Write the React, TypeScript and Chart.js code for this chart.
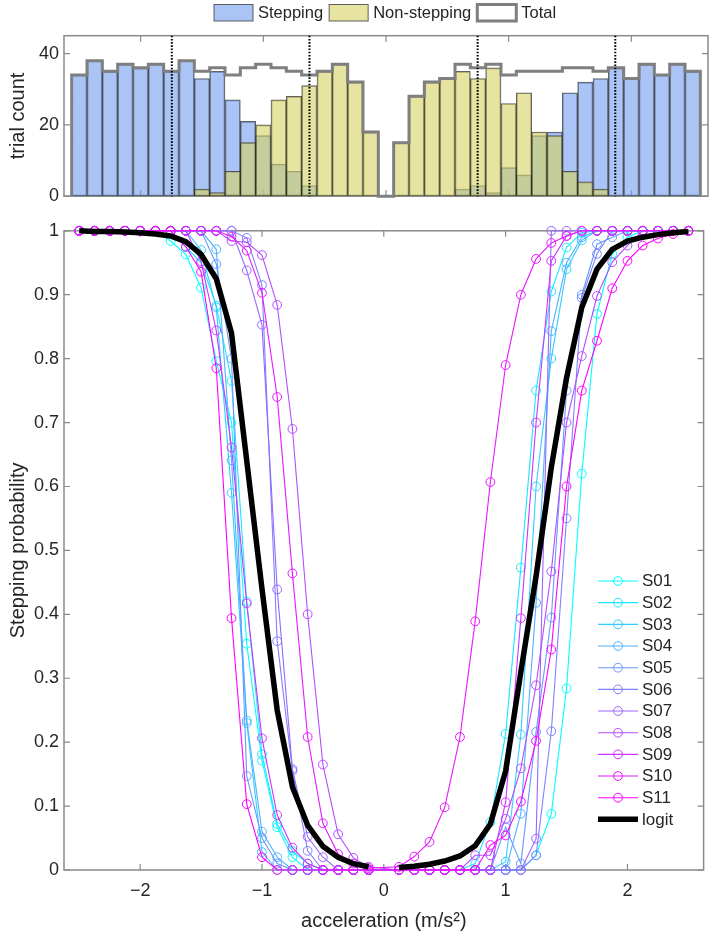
import React, { useEffect, useRef } from "react";
import { Chart, registerables } from "chart.js";

Chart.register(...registerables);

// ---------------- data ----------------
const BIN_CENTERS = [-2.5, -2.375, -2.25, -2.125, -2, -1.875, -1.75, -1.625, -1.5, -1.375, -1.25, -1.125, -1, -0.875, -0.75, -0.625, -0.5, -0.375, -0.25, -0.125, 0, 0.125, 0.25, 0.375, 0.5, 0.625, 0.75, 0.875, 1, 1.125, 1.25, 1.375, 1.5, 1.625, 1.75, 1.875, 2, 2.125, 2.25, 2.375, 2.5];
const BIN_WIDTH = 0.125;
const STEPPING_COUNTS = [34, 38, 35, 37, 36, 37, 35, 38, 33, 35, 27, 21, 17, 9, 7, 3, 0, 0, 0, 0, 0, 0, 0, 0, 0, 2, 3, 1, 8, 6, 17, 18, 29, 32, 33, 36, 33, 37, 34, 37, 35];
const NONSTEPPING_COUNTS = [0, 0, 0, 0, 0, 0, 0, 0, 2, 1, 7, 15, 20, 27, 28, 31, 35, 37, 32, 18, 0, 15, 28, 32, 33, 35, 33, 36, 26, 29, 18, 17, 7, 4, 2, 0, 0, 0, 0, 0, 0];
const TOTAL_COUNTS = [34, 38, 35, 37, 36, 37, 35, 38, 35, 36, 34, 36, 37, 36, 35, 34, 35, 37, 32, 18, 0, 15, 28, 32, 33, 37, 36, 37, 34, 35, 35, 35, 36, 36, 35, 36, 33, 37, 34, 37, 35];
const THRESHOLDS = [-1.746, -0.624, 0.747, 1.869];

const ACCEL = [-2.5, -2.375, -2.25, -2.125, -2, -1.875, -1.75, -1.625, -1.5, -1.375, -1.25, -1.125, -1, -0.875, -0.75, -0.625, -0.5, -0.375, -0.25, -0.125, 0.125, 0.25, 0.375, 0.5, 0.625, 0.75, 0.875, 1, 1.125, 1.25, 1.375, 1.5, 1.625, 1.75, 1.875, 2, 2.125, 2.25, 2.375, 2.5];

const S01 = [1, 1, 1, 1, 1, 1, 0.984, 0.963, 0.911, 0.796, 0.70, 0.354, 0.171, 0.067, 0.02, 0, 0, 0, 0, 0, 0, 0, 0, 0, 0, 0, 0, 0, 0, 0.023, 0.088, 0.284, 0.62, 0.87, 0.964, 0.99, 1, 1, 1, 1];
const S02 = [1, 1, 1, 1, 1, 1, 1, 0.975, 0.95, 0.883, 0.765, 0.42, 0.181, 0.072, 0.03, 0.01, 0, 0, 0, 0, 0, 0, 0, 0, 0, 0.01, 0.075, 0.213, 0.473, 0.75, 0.905, 0.974, 0.997, 1, 1, 1, 1, 1, 1, 1];
const S03 = [1, 1, 1, 1, 1, 1, 1, 1, 0.97, 0.88, 0.59, 0.23, 0.028, 0, 0, 0, 0, 0, 0, 0, 0, 0, 0, 0, 0, 0, 0, 0.013, 0.212, 0.6, 0.80, 0.94, 0.985, 1, 1, 1, 1, 1, 1, 1];
const S04 = [1, 1, 1, 1, 1, 1, 1, 1, 1, 0.971, 0.641, 0.234, 0.06, 0.02, 0, 0, 0, 0, 0, 0, 0, 0, 0, 0, 0, 0, 0, 0, 0.088, 0.418, 0.843, 0.95, 0.99, 1, 1, 1, 1, 1, 1, 1];
const S05 = [1, 1, 1, 1, 1, 1, 1, 1, 1, 0.948, 0.80, 0.147, 0.05, 0.01, 0, 0, 0, 0, 0, 0, 0, 0, 0, 0, 0, 0, 0, 0.067, 0.01, 0.216, 0.395, 0.75, 0.90, 0.979, 0.99, 1, 1, 1, 1, 1];
const S06 = [1, 1, 1, 1, 1, 1, 1, 1, 1, 1, 1, 0.989, 0.915, 0.358, 0.155, 0.03, 0, 0, 0, 0, 0, 0, 0, 0, 0, 0, 0, 0, 0, 0.023, 0.217, 0.55, 0.895, 0.964, 1, 1, 1, 1, 1, 1];
const S07 = [1, 1, 1, 1, 1, 1, 1, 1, 1, 1, 1, 0.938, 0.853, 0.439, 0.158, 0.052, 0.02, 0, 0, 0, 0, 0, 0, 0, 0, 0, 0, 0, 0, 0.049, 1, 1, 1, 1, 1, 1, 1, 1, 1, 1];
const S08 = [1, 1, 1, 1, 1, 1, 1, 1, 1, 1, 0.984, 0.982, 0.962, 0.884, 0.69, 0.40, 0.165, 0.056, 0.019, 0.005, 0, 0, 0, 0, 0, 0.023, 0.023, 0.08, 0.159, 0.289, 0.467, 0.7, 0.804, 0.898, 0.951, 0.977, 1, 1, 1, 1];
const S09 = [1, 1, 1, 1, 1, 1, 1, 1, 0.952, 0.844, 0.661, 0.417, 0.206, 0.086, 0.035, 0.01, 0, 0, 0, 0, 0, 0, 0, 0, 0, 0, 0, 0.106, 0.394, 0.70, 0.953, 0.992, 1, 1, 1, 1, 1, 1, 1, 1];
const S10 = [1, 1, 1, 1, 1, 1, 1, 1, 1, 1, 0.991, 0.969, 0.903, 0.74, 0.464, 0.208, 0.073, 0.025, 0.01, 0.003, 0.005, 0.021, 0.044, 0.098, 0.208, 0.389, 0.607, 0.79, 0.90, 0.956, 0.981, 0.992, 1, 1, 1, 1, 1, 1, 1, 1];
const S11 = [1, 1, 1, 1, 1, 1, 1, 0.975, 0.936, 0.785, 0.394, 0.103, 0.02, 0, 0, 0, 0, 0, 0, 0, 0, 0, 0, 0, 0, 0, 0.039, 0.054, 0.107, 0.202, 0.345, 0.6, 0.75, 0.828, 0.91, 0.953, 0.977, 0.988, 0.995, 1];
const LOGIT = [1, 0.999, 0.999, 0.998, 0.997, 0.995, 0.992, 0.983, 0.963, 0.925, 0.84, 0.64, 0.44, 0.25, 0.13, 0.07, 0.037, 0.02, 0.01, 0.005, 0.004, 0.006, 0.009, 0.014, 0.022, 0.038, 0.072, 0.155, 0.31, 0.46, 0.63, 0.77, 0.88, 0.94, 0.971, 0.984, 0.99, 0.994, 0.997, 0.999];

const SUBJECT_LABELS = ["S01", "S02", "S03", "S04", "S05", "S06", "S07", "S08", "S09", "S10", "S11"];
const SUBJECT_SERIES = [S01, S02, S03, S04, S05, S06, S07, S08, S09, S10, S11];

const X_TICKS = [-2, -1, 0, 1, 2];
const COUNT_TICKS = [0, 20, 40];
const PROB_TICKS = [0, 0.1, 0.2, 0.3, 0.4, 0.5, 0.6, 0.7, 0.8, 0.9, 1];

// ---------------- styles ----------------
const FONT = "'Liberation Sans', Arial, Helvetica, sans-serif";
const TEXT = "#262626";
const AXIS = "#8a8a8a";
const STEP_FILL = "rgba(113,158,238,0.6)";
const NONSTEP_FILL = "rgba(213,210,97,0.6)";
const BAR_EDGE = "rgba(45,45,45,0.75)";
const TOTAL_COLOR = "#7f7f7f";
const SUBJECT_COLORS = ["#00ffff", "#1ae6ff", "#33ccff", "#4db3ff", "#6699ff", "#8080ff", "#9966ff", "#b34dff", "#cc33ff", "#e619ff", "#ff00ff"];

Chart.defaults.font.family = FONT;
Chart.defaults.color = TEXT;

const XMIN = -2.625;
const XMAX = 2.625;

// axes box with inward ticks (MATLAB style)
const boxPlugin = {
  id: "matlabBox",
  beforeDatasetsDraw(chart: any, _a: any, opts: any) {
    const { ctx, chartArea } = chart;
    const { left, right, top, bottom } = chartArea;
    const xs = chart.scales.x;
    const ys = chart.scales.y;
    const L = 6;
    ctx.save();
    ctx.strokeStyle = AXIS;
    ctx.lineWidth = 1.2;
    ctx.beginPath();
    for (const v of opts.xTicks || []) {
      const px = xs.getPixelForValue(v);
      ctx.moveTo(px, bottom);
      ctx.lineTo(px, bottom - L);
      ctx.moveTo(px, top);
      ctx.lineTo(px, top + L);
    }
    for (const v of opts.yTicks || []) {
      const py = ys.getPixelForValue(v);
      ctx.moveTo(left, py);
      ctx.lineTo(left + L, py);
      ctx.moveTo(right, py);
      ctx.lineTo(right - L, py);
    }
    ctx.stroke();
    ctx.lineWidth = 1.5;
    ctx.strokeRect(left, top, right - left, bottom - top);
    ctx.restore();
  },
};

const thresholdPlugin = {
  id: "thresholds",
  afterDatasetsDraw(chart: any) {
    const { ctx, chartArea } = chart;
    const xs = chart.scales.x;
    ctx.save();
    ctx.strokeStyle = "#000";
    ctx.lineWidth = 2;
    ctx.setLineDash([1.6, 1.6]);
    for (const v of THRESHOLDS) {
      const px = xs.getPixelForValue(v);
      ctx.beginPath();
      ctx.moveTo(px, chartArea.top);
      ctx.lineTo(px, chartArea.bottom);
      ctx.stroke();
    }
    ctx.restore();
  },
};

const histLegendPlugin = {
  id: "histLegend",
  afterDraw(chart: any) {
    const ctx = chart.ctx;
    ctx.save();
    ctx.font = `16.5px ${FONT}`;
    ctx.textBaseline = "middle";
    const ds = chart.data.datasets;
    const items = [
      { label: ds[2].label, fill: STEP_FILL, stroke: BAR_EDGE, lw: 1 },
      { label: ds[1].label, fill: NONSTEP_FILL, stroke: BAR_EDGE, lw: 1 },
      { label: ds[0].label, fill: "#ffffff", stroke: TOTAL_COLOR, lw: 3 },
    ];
    let x = 214;
    const y0 = 4.5;
    const h = 16.5;
    const bw = 39;
    for (const it of items) {
      ctx.fillStyle = it.fill;
      ctx.fillRect(x, y0, bw, h);
      ctx.strokeStyle = it.stroke;
      ctx.lineWidth = it.lw;
      ctx.strokeRect(x, y0, bw, h);
      ctx.fillStyle = TEXT;
      ctx.fillText(it.label, x + bw + 5, y0 + h / 2 + 0.5);
      x += bw + 5 + ctx.measureText(it.label).width + 6;
    }
    ctx.restore();
  },
};

const probLegendPlugin = {
  id: "probLegend",
  afterDraw(chart: any) {
    const ctx = chart.ctx;
    ctx.save();
    ctx.font = `17px ${FONT}`;
    ctx.textBaseline = "middle";
    const ds = chart.data.datasets;
    const x0 = 598;
    const x1 = 638;
    const y0 = 366;
    const dy = 21.67;
    ds.forEach((d: any, i: number) => {
      const y = y0 + i * dy;
      ctx.strokeStyle = d.borderColor;
      ctx.lineWidth = d.borderWidth;
      ctx.beginPath();
      ctx.moveTo(x0, y);
      ctx.lineTo(x1, y);
      ctx.stroke();
      if (d.pointRadius > 0) {
        ctx.lineWidth = 1;
        ctx.beginPath();
        ctx.arc((x0 + x1) / 2, y, d.pointRadius, 0, Math.PI * 2);
        ctx.stroke();
      }
      ctx.fillStyle = TEXT;
      ctx.fillText(d.label, x1 + 4, y + 0.5);
    });
    ctx.restore();
  },
};

function fmtX(v: number) {
  return String(v).replace("-", "\u2212");
}

function makeTop(canvas: HTMLCanvasElement) {
  const half = BIN_WIDTH / 2;
  const stairs: { x: number; y: number }[] = [{ x: BIN_CENTERS[0] - half, y: 0 }];
  BIN_CENTERS.forEach((c, i) => {
    stairs.push({ x: c - half, y: TOTAL_COUNTS[i] });
    stairs.push({ x: c + half, y: TOTAL_COUNTS[i] });
  });
  stairs.push({ x: BIN_CENTERS[BIN_CENTERS.length - 1] + half, y: 0 });

  return new Chart(canvas, {
    type: "bar",
    data: {
      datasets: [
        {
          type: "line",
          label: "Total",
          data: stairs,
          borderColor: TOTAL_COLOR,
          borderWidth: 3,
          pointRadius: 0,
          borderJoinStyle: "miter",
          fill: false,
          clip: false,
          order: 0,
        } as any,
        {
          label: "Non-stepping",
          data: BIN_CENTERS.map((x, i) => ({ x, y: NONSTEPPING_COUNTS[i] })),
          backgroundColor: NONSTEP_FILL,
          borderColor: BAR_EDGE,
          borderWidth: 1,
          borderSkipped: false,
          grouped: false,
          barPercentage: 1,
          categoryPercentage: 1,
          order: 1,
        },
        {
          label: "Stepping",
          data: BIN_CENTERS.map((x, i) => ({ x, y: STEPPING_COUNTS[i] })),
          backgroundColor: STEP_FILL,
          borderColor: BAR_EDGE,
          borderWidth: 1,
          borderSkipped: false,
          grouped: false,
          barPercentage: 1,
          categoryPercentage: 1,
          order: 2,
        },
      ],
    },
    options: {
      responsive: false,
      animation: false,
      events: [],
      layout: { padding: { left: 0, right: 1, top: 35.7, bottom: 15.3 } },
      scales: {
        x: {
          type: "linear",
          min: XMIN,
          max: XMAX,
          offset: false,
          display: false,
        },
        y: {
          min: 0,
          max: 45,
          afterBuildTicks: (s: any) => {
            s.ticks = COUNT_TICKS.map((v) => ({ value: v }));
          },
          afterFit: (s: any) => {
            s.width = 64;
          },
          grid: { display: false, drawTicks: false },
          border: { display: false },
          ticks: { font: { size: 18 }, color: TEXT, padding: 5 },
          title: { display: true, text: "trial count", font: { size: 20 }, color: TEXT, padding: { top: 6, bottom: 0 } },
        },
      },
      plugins: {
        legend: { display: false },
        tooltip: { enabled: false },
        matlabBox: { xTicks: X_TICKS, yTicks: COUNT_TICKS },
      } as any,
    },
    plugins: [boxPlugin, thresholdPlugin, histLegendPlugin],
  } as any);
}

function makeBottom(canvas: HTMLCanvasElement) {
  const n = SUBJECT_SERIES.length;
  const datasets: any[] = SUBJECT_SERIES.map((arr, i) => ({
    label: SUBJECT_LABELS[i],
    data: ACCEL.map((x, j) => ({ x, y: arr[j] })),
    borderColor: SUBJECT_COLORS[i],
    borderWidth: 1.1,
    pointRadius: 4.4,
    pointBorderWidth: 1,
    pointBorderColor: SUBJECT_COLORS[i],
    pointBackgroundColor: "rgba(0,0,0,0)",
    pointStyle: "circle",
    tension: 0,
    fill: false,
    clip: false,
    order: n - i + 1,
  }));
  const logitData: { x: number; y: number | null }[] = [];
  ACCEL.forEach((x, j) => {
    if (j > 0 && ACCEL[j - 1] < 0 && x > 0) logitData.push({ x: 0, y: null });
    logitData.push({ x, y: LOGIT[j] });
  });
  datasets.push({
    label: "logit",
    data: logitData,
    borderColor: "#000000",
    borderWidth: 5.5,
    pointRadius: 0,
    spanGaps: false,
    tension: 0,
    fill: false,
    clip: false,
    order: 0,
  });

  return new Chart(canvas, {
    type: "line",
    data: { datasets },
    options: {
      responsive: false,
      animation: false,
      events: [],
      layout: { padding: { left: 0, right: 1, top: 10, bottom: 0 } },
      scales: {
        x: {
          type: "linear",
          min: XMIN,
          max: XMAX,
          afterBuildTicks: (s: any) => {
            s.ticks = X_TICKS.map((v) => ({ value: v }));
          },
          afterFit: (s: any) => {
            s.height = 64;
          },
          grid: { display: false, drawTicks: false },
          border: { display: false },
          ticks: { font: { size: 18 }, color: TEXT, padding: 10, maxRotation: 0, callback: (v: any) => fmtX(Number(v)) },
          title: { display: true, text: "acceleration (m/s\u00b2)", font: { size: 20 }, color: TEXT, padding: { top: 0, bottom: 0.5 } },
        },
        y: {
          min: 0,
          max: 1,
          afterBuildTicks: (s: any) => {
            s.ticks = PROB_TICKS.map((v) => ({ value: v }));
          },
          afterFit: (s: any) => {
            s.width = 64;
          },
          grid: { display: false, drawTicks: false },
          border: { display: false },
          ticks: { font: { size: 18 }, color: TEXT, padding: 5, callback: (v: any) => String(Math.round(Number(v) * 10) / 10) },
          title: { display: true, text: "Stepping probability", font: { size: 20 }, color: TEXT, padding: { top: 6, bottom: 0 } },
        },
      },
      plugins: {
        legend: { display: false },
        tooltip: { enabled: false },
        matlabBox: { xTicks: X_TICKS, yTicks: PROB_TICKS },
      } as any,
    },
    plugins: [boxPlugin, probLegendPlugin],
  } as any);
}

export default function App() {
  const topRef = useRef<HTMLCanvasElement>(null);
  const botRef = useRef<HTMLCanvasElement>(null);
  useEffect(() => {
    const c1 = makeTop(topRef.current as HTMLCanvasElement);
    const c2 = makeBottom(botRef.current as HTMLCanvasElement);
    return () => {
      c1.destroy();
      c2.destroy();
    };
  }, []);
  return (
    <div style={{ position: "absolute", left: 0, top: 0, width: 709, height: 934, background: "#ffffff" }}>
      <canvas ref={topRef} width={709} height={212} style={{ position: "absolute", left: 0, top: 0, width: 709, height: 212 }} />
      <canvas ref={botRef} width={709} height={719} style={{ position: "absolute", left: 0, top: 215, width: 709, height: 719 }} />
    </div>
  );
}
